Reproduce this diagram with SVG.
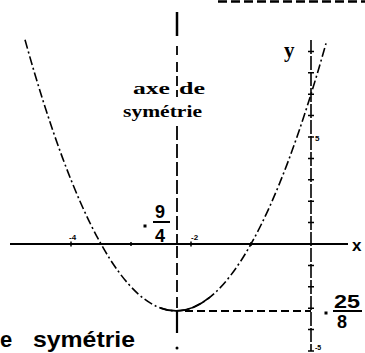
<svg xmlns="http://www.w3.org/2000/svg" width="365" height="353" viewBox="0 0 365 353">
<style>
.ser{font-family:"Liberation Serif","DejaVu Serif",serif;font-weight:bold;fill:#000}
.san{font-family:"Liberation Sans","DejaVu Sans",sans-serif;font-weight:bold;fill:#000}
.ax{stroke:#000;fill:none}
.tick{stroke:#000;stroke-width:1.5}
</style>
<rect width="365" height="353" fill="#fff"/>
<g id="connectors">
  <line class="ax" x1="218" y1="1.5" x2="365" y2="1.5" stroke-width="2.5" stroke-dasharray="9 4"/>
  <line id="x-axis" class="ax" x1="10" y1="244" x2="348" y2="244" stroke-width="2"/>
  <line class="tick" x1="71" y1="241.5" x2="71" y2="246.5"/>
  <line class="tick" x1="191" y1="241.5" x2="191" y2="246.5"/>
  <line class="tick" x1="131" y1="242" x2="131" y2="246"/>
  <line class="tick" x1="251" y1="242" x2="251" y2="246"/>
  <g id="y-axis">
    <line class="ax" x1="311" y1="40" x2="311" y2="351" stroke-width="1.6" stroke-dasharray="14 2"/>
    <path class="tick" d="M308 51.4h6M308 72.8h6M308 94.2h6M308 115.6h6M308 137h6M308 158.4h6M308 179.8h6M308 201.2h6M308 222.6h6M308 265.4h6M308 286.8h6M308 308.2h6M308 329.6h6M308 351h6"/>
  </g>
  <g id="symmetry-axis">
    <line class="ax" x1="177" y1="12" x2="177" y2="36" stroke-width="2.5"/>
    <line class="ax" x1="177" y1="46" x2="177" y2="55" stroke-width="1.8"/>
    <line class="ax" x1="177" y1="62" x2="177" y2="97" stroke-width="1.8" stroke-dasharray="10 4"/>
    <line class="ax" x1="177" y1="126" x2="177" y2="244" stroke-width="1.8" stroke-dasharray="14 4"/>
    <line class="ax" x1="177" y1="246" x2="177" y2="308" stroke-width="1.8" stroke-dasharray="12 5"/>
    <line class="ax" x1="177" y1="311" x2="177" y2="333" stroke-width="2.2"/>
    <circle cx="177" cy="348" r="1.5" fill="#000"/>
  </g>
  <line class="ax" x1="185" y1="311" x2="311" y2="311" stroke-width="2" stroke-dasharray="8 4"/>
  <g id="parabola">
    <path class="ax" d="M25 39.8 Q175.5 580.2 326 43.4" stroke-width="1.6" stroke-dasharray="9 3 2 3"/>
    <path class="ax" d="M160 307.8 Q185 317.4 210 297.1" stroke-width="1.8"/>
  </g>
</g>
<g id="label-axe">
  <text class="ser" x="133" y="94" font-size="17" textLength="37" lengthAdjust="spacingAndGlyphs">axe</text>
  <text class="ser" x="179" y="94" font-size="17" textLength="26" lengthAdjust="spacingAndGlyphs">de</text>
  <text class="ser" x="123" y="117" font-size="17" textLength="79" lengthAdjust="spacingAndGlyphs">symétrie</text>
</g>
<g id="label-y"><text class="ser" x="284" y="57" font-size="21">y</text></g>
<g id="label-x"><text class="san" x="352" y="251" font-size="17">x</text></g>
<g id="label-m94">
  <rect x="143.5" y="224.5" width="3" height="3" fill="#000"/>
  <text class="san" x="155" y="218" font-size="18">9</text>
  <line x1="153" y1="222" x2="170" y2="222" stroke="#000" stroke-width="2"/>
  <text class="san" x="155" y="242" font-size="18">4</text>
</g>
<g id="label-m258">
  <rect x="324.5" y="311.5" width="3" height="3" fill="#000"/>
  <text class="san" x="334" y="308" font-size="18" textLength="26" lengthAdjust="spacingAndGlyphs">25</text>
  <line x1="333" y1="311" x2="362" y2="311" stroke="#000" stroke-width="2"/>
  <text class="san" x="337" y="328" font-size="18">8</text>
</g>
<g id="tick-labels">
  <text class="san" x="69" y="240" font-size="8">-4</text>
  <text class="san" x="191" y="240" font-size="8">-2</text>
  <text class="san" x="315" y="141" font-size="8">5</text>
  <text class="san" x="315" y="350" font-size="7">-5</text>
</g>
<g id="label-bottom">
  <text class="san" x="0" y="347" font-size="22">e</text>
  <text class="san" x="33" y="347" font-size="22" textLength="102" lengthAdjust="spacingAndGlyphs">symétrie</text>
</g>
</svg>
